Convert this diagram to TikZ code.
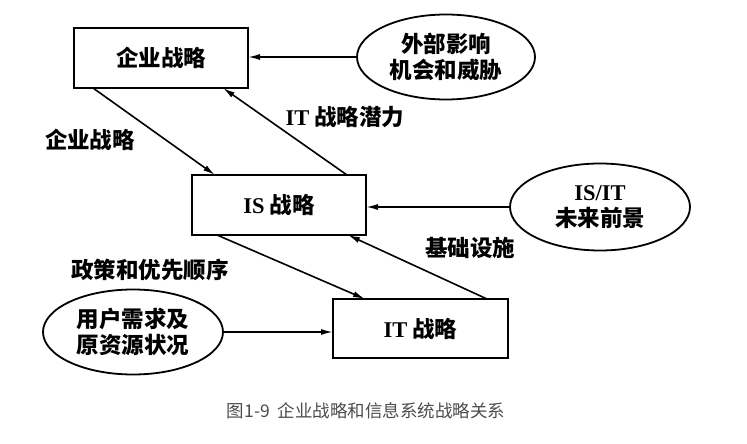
\documentclass[tikz,border=0pt]{standalone}
\usepackage{fontspec}
\setmainfont{Noto Sans CJK SC}
\newfontfamily\lat{Liberation Serif}
\usetikzlibrary{shapes.geometric,arrows.meta}
\begin{document}
\begin{tikzpicture}[x=1pt,y=-1pt,
  every node/.style={inner sep=0pt,outer sep=0pt},
  txt/.style={font=\fontsize{22.5}{26}\selectfont\bfseries,align=center},
  boxn/.style={draw,line width=1.8pt,txt},
  ell/.style={draw,ellipse,line width=1.8pt,txt},
  conn/.style={line width=1.6pt,-{Latex[length=12pt,width=6pt]}},
  lab/.style={txt}]
\useasboundingbox (0,0) rectangle (747,444);
% boxes
\node[boxn,minimum width=174pt,minimum height=60pt] (b1) at (161,58) {企业战略};
\node[boxn,minimum width=174pt,minimum height=60pt] (is) at (279,205) {{\lat IS} 战略};
\node[boxn,minimum width=175pt,minimum height=59pt] (it) at (420.5,328.5) {{\lat IT} 战略};
% ellipses
\node[ell,minimum width=178pt,minimum height=85pt] (e1) at (446,57) {外部影响\\机会和威胁};
\node[ell,minimum width=180pt,minimum height=87pt] (e2) at (600,207) {{\lat IS/IT}\\未来前景};
\node[ell,minimum width=180pt,minimum height=85pt] (e3) at (133,332) {用户需求及\\原资源状况};
% labels
\node[lab] (l1) at (90,140) {企业战略};
\node[lab] (l2) at (345,117) {{\lat IT} 战略潜力};
\node[lab] (l3) at (470,248) {基础设施};
\node[lab] (l4) at (150,270) {政策和优先顺序};
\node[font=\fontsize{17.5}{20}\selectfont,text=black!70] (cap) at (366,411) {图1-9\ \ 企业战略和信息系统战略关系};
% connectors
\draw[conn] (e1.west) -- (b1.east |- e1.west);
\draw[conn] ([xshift=19pt]b1.south west) -- ([xshift=23pt]is.north west);
\draw[conn] ([xshift=-19pt]is.north east) -- ([xshift=-25pt]b1.south east);
\draw[conn] (e2.west) -- (is.east |- e2.west);
\draw[conn] ([xshift=25pt]is.south west) -- ([xshift=32pt]it.north west);
\draw[conn] ([xshift=-21pt]it.north east) -- ([xshift=-18pt]is.south east);
\draw[conn] (e3.east) -- (it.west |- e3.east);
\end{tikzpicture}
\end{document}
